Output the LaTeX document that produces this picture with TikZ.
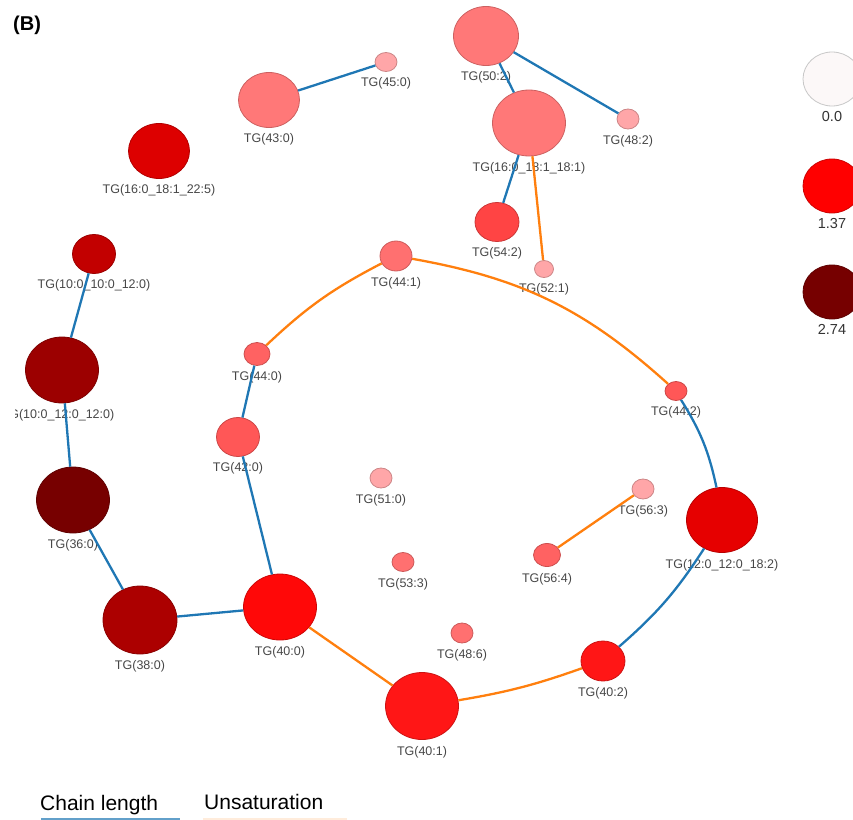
\documentclass[tikz,border=0pt]{standalone}
\usepackage{fontspec}
\setmainfont{Liberation Sans}
\usetikzlibrary{shapes.geometric}
\definecolor{chainblue}{HTML}{1F77B4}
\definecolor{unsatorange}{HTML}{FF7F0E}
\definecolor{pinkA}{HTML}{FFA6A8}
\definecolor{salmon}{HTML}{FF7878}
\definecolor{pinkC}{HTML}{FF7070}
\definecolor{pinkD}{HTML}{FF6262}
\definecolor{pinkE}{HTML}{FF5757}
\definecolor{redF}{HTML}{FF4444}
\definecolor{redA}{HTML}{FF0808}
\definecolor{redB}{HTML}{FF1616}
\definecolor{redD}{HTML}{E60000}
\definecolor{redC}{HTML}{DD0000}
\definecolor{darkA}{HTML}{C20000}
\definecolor{darkD}{HTML}{AC0000}
\definecolor{darkB}{HTML}{9C0000}
\definecolor{darkC}{HTML}{770000}
\definecolor{legW}{HTML}{FCF8F8}
\definecolor{legR}{HTML}{FF0000}
\definecolor{legD}{HTML}{760000}
\tikzstyle{chain} = [draw=chainblue, line width=2.3pt]
\tikzstyle{unsat} = [draw=unsatorange, line width=2.3pt]
\tikzstyle{lbl} = [font=\fontsize{12.5}{15}\selectfont, text=black!72, label distance=2.5pt]
\tikzstyle{val} = [font=\fontsize{14.5}{17}\selectfont, text=black!80, label distance=1.5pt]
\tikzstyle{key} = [anchor=base west, inner sep=0pt, font=\fontsize{21}{25}\selectfont]
\tikzset{bub/.style n args={3}{ellipse, inner sep=0pt, fill=#1, draw=#1!80!black, line width=0.8pt, minimum width=#2pt, minimum height=#3pt}}

\begin{document}
\begin{tikzpicture}[x=1pt, y=-1pt]
\useasboundingbox (0,0) rectangle (853,819);
\node(fig)[anchor=base west, inner sep=0pt, font=\fontsize{20}{24}\selectfont\bfseries] at (13,30) {(B)};

\begin{scope}
\clip (15,0) rectangle (853,819);
% lipid nodes
\node(tg45)[bub={pinkA}{22}{19}, label={[lbl]below:TG(45:0)}] at (386,62) {};
\node(tg43)[bub={salmon}{61}{55}, label={[lbl]below:TG(43:0)}] at (269,100) {};
\node(tg16a)[bub={redC}{61}{55}, label={[lbl]below:TG(16:0\_18:1\_22:5)}] at (159,151) {};
\node(tg10a)[bub={darkA}{43}{39}, label={[lbl]below:TG(10:0\_10:0\_12:0)}] at (94,254) {};
\node(tg50)[bub={salmon}{65}{59}, label={[lbl]below:TG(50:2)}] at (486,36) {};
\node(tg16b)[bub={salmon}{73}{66}, label={[lbl]below:TG(16:0\_18:1\_18:1)}] at (529,123) {};
\node(tg48b)[bub={pinkA}{22}{20}, label={[lbl]below:TG(48:2)}] at (628,119) {};
\node(tg54)[bub={redF}{44}{39}, label={[lbl]below:TG(54:2)}] at (497,222) {};
\node(tg52)[bub={pinkA}{19}{17}, label={[lbl]below:TG(52:1)}] at (544,269) {};
\node(tg44a)[bub={pinkC}{32}{30}, label={[lbl]below:TG(44:1)}] at (396,256) {};
\node(tg10b)[bub={darkB}{73}{66}, label={[lbl, xshift=-4pt]below:TG(10:0\_12:0\_12:0)}] at (62,370) {};
\node(tg44b)[bub={pinkD}{26}{23}, label={[lbl]below:TG(44:0)}] at (257,354) {};
\node(tg42)[bub={pinkE}{43}{39}, label={[lbl]below:TG(42:0)}] at (238,437) {};
\node(tg51)[bub={pinkA}{22}{20}, label={[lbl]below:TG(51:0)}] at (381,478) {};
\node(tg36)[bub={darkC}{73}{66}, label={[lbl]below:TG(36:0)}] at (73,500) {};
\node(tg53)[bub={pinkC}{22}{19}, label={[lbl]below:TG(53:3)}] at (403,562) {};
\node(tg38)[bub={darkD}{74}{68}, label={[lbl]below:TG(38:0)}] at (140,620) {};
\node(tg40a)[bub={redA}{73}{66}, label={[lbl]below:TG(40:0)}] at (280,607) {};
\node(tg48a)[bub={pinkC}{22}{20}, label={[lbl]below:TG(48:6)}] at (462,633) {};
\node(tg40b)[bub={redB}{73}{67}, label={[lbl]below:TG(40:1)}] at (422,706) {};
\node(tg40c)[bub={redB}{44}{40}, label={[lbl]below:TG(40:2)}] at (603,661) {};
\node(tg44c)[bub={pinkE}{22}{19}, label={[lbl]below:TG(44:2)}] at (676,391) {};
\node(tg56a)[bub={pinkA}{22}{20}, label={[lbl]below:TG(56:3)}] at (643,489) {};
\node(tg56b)[bub={pinkD}{27}{23}, label={[lbl]below:TG(56:4)}] at (547,555) {};
\node(tg12)[bub={redD}{71}{65}, label={[lbl]below:TG(12:0\_12:0\_18:2)}] at (722,520) {};

% links
\draw [chain] (tg45) -- (tg43);
\draw [chain] (tg50) -- (tg16b);
\draw [chain] (tg50) -- (tg48b);
\draw [chain] (tg16b) -- (tg54);
\draw [unsat] (tg16b) -- (tg52);
\draw [chain] (tg10a) -- (tg10b);
\draw [chain] (tg10b) -- (tg36);
\draw [chain] (tg36) -- (tg38);
\draw [chain] (tg38) -- (tg40a);
\draw [chain] (tg40a) -- (tg42);
\draw [chain] (tg42) -- (tg44b);
\draw [unsat] (tg44b) to[bend left=8] (tg44a);
\draw [unsat] (tg44a) to[bend left=16] (tg44c);
\draw [chain] (tg44c) to[bend left=10] (tg12);
\draw [chain] (tg12) to[bend left=8] (tg40c);
\draw [unsat] (tg40c) to[bend left=5] (tg40b);
\draw [unsat] (tg40b) -- (tg40a);
\draw [unsat] (tg56b) -- (tg56a);
\end{scope}

% colour scale
\node(leg0)[bub={legW}{58}{54}, draw=black!22, label={[val]below:0.0}] at (832,79) {};
\node(leg1)[bub={legR}{58}{54}, label={[val]below:1.37}] at (832,186) {};
\node(leg2)[bub={legD}{58}{54}, label={[val]below:2.74}] at (832,292) {};

% link key
\node(keychain)[key] at (40,810) {Chain length};
\node(keyunsat)[key] at (204,809) {Unsaturation};
\draw [chainblue!70, line width=2pt] (41,818.5) -- (180,818.5);
\draw [unsatorange!15, line width=2pt] (203,818.5) -- (347,818.5);
\end{tikzpicture}
\end{document}
